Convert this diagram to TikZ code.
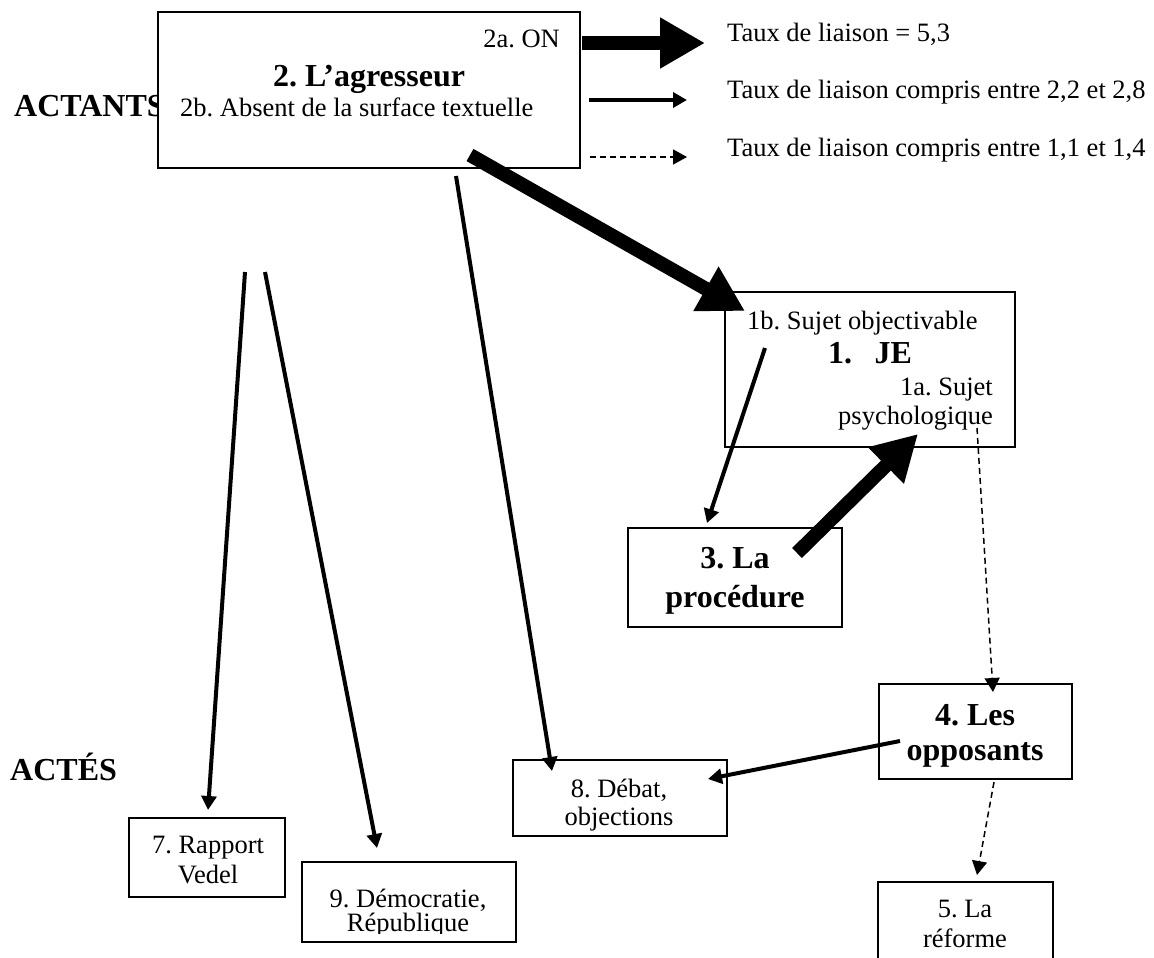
\documentclass[tikz,border=0pt]{standalone}
\usepackage{fontspec}
\setmainfont{Liberation Serif}
\usetikzlibrary{arrows.meta}
\frenchspacing
\begin{document}
\begin{tikzpicture}[x=1pt,y=-1pt,
  box/.style={draw, line width=1.6pt, fill=white, inner sep=0pt, rectangle},
  reg/.style={font=\fontsize{26.5}{30}\selectfont, inner sep=0pt},
  bld/.style={font=\fontsize{32}{36}\selectfont\bfseries, inner sep=0pt},
  med/.style={line width=4pt, -{Triangle[length=14pt,width=15pt]}},
  heavy/.style={line width=14pt, -{Triangle[length=45pt,width=48pt]}},
  dsh/.style={line width=1.5pt, dash pattern=on 6pt off 4pt, -{Triangle[length=14pt,width=15pt]}}
]
\useasboundingbox (0,0) rectangle (1154,958);

% side labels
\node[bld, anchor=base west] (actants) at (14,117) {ACTANTS};
\node[bld, anchor=base west] (actes) at (10,780) {ACTÉS};

% boxes
\node[box, minimum width=422pt, minimum height=156pt] (agr) at (369,90) {};
\node[box, minimum width=290pt, minimum height=155pt] (je) at (870,369.5) {};
\node[box, minimum width=214pt, minimum height=99pt] (proc) at (735,577.5) {};
\node[box, minimum width=193pt, minimum height=95pt] (opp) at (975.5,731.5) {};
\node[box, minimum width=214pt, minimum height=76pt] (deb) at (620,798) {};
\node[box, minimum width=156pt, minimum height=79pt] (rap) at (207,857.5) {};
\node[box, minimum width=214pt, minimum height=80pt] (dem) at (409,902) {};
\node[box, minimum width=175pt, minimum height=100pt] (ref) at (965.5,932) {};

% texts in agresseur box
\node[reg, anchor=base east] (t2a) at (560,48) {2a. ON};
\node[bld, anchor=base] (t2) at (369,86) {2. L’agresseur};
\node[reg, anchor=base west] (t2b) at (180,116) {2b. Absent de la surface textuelle};

% legend
\node[reg, anchor=base west] (lg1) at (727,42) {Taux de liaison = 5,3};
\node[reg, anchor=base west] (lg2) at (727,99) {Taux de liaison compris entre 2,2 et 2,8};
\node[reg, anchor=base west] (lg3) at (727,156) {Taux de liaison compris entre 1,1 et 1,4};

% JE box texts
\node[reg, anchor=base west] (t1b) at (747,329) {1b. Sujet objectivable};
\node[bld, anchor=base west] (t1) at (828,363) {1.\hspace{0.7em}JE};
\node[reg, anchor=base east] (t1a) at (993,395) {1a. Sujet};
\node[reg, anchor=base east] (t1a2) at (993,424) {psychologique};

% procedure
\node[bld, anchor=base] (t3a) at (735,568) {3. La};
\node[bld, anchor=base] (t3b) at (735,607) {procédure};

% opposants
\node[bld, anchor=base] (t4a) at (975,725) {4. Les};
\node[bld, anchor=base] (t4b) at (975,760) {opposants};

% debat
\begin{scope}
\clip (513,760) rectangle (727,830);
\node[reg, anchor=base] (t8a) at (619,797) {8. Débat,};
\node[reg, anchor=base] (t8b) at (619,825) {objections};
\end{scope}

% rapport
\node[reg, anchor=base] (t7a) at (208,853) {7. Rapport};
\node[reg, anchor=base] (t7b) at (208,883) {Vedel};

% democratie
\begin{scope}
\clip (302,862) rectangle (516,933);
\node[reg, anchor=base] (t9a) at (408,907) {9. Démocratie,};
\node[reg, anchor=base] (t9b) at (408,931) {République};
\end{scope}

% reforme
\node[reg, anchor=base] (t5a) at (965,917) {5. La};
\node[reg, anchor=base] (t5b) at (965,947) {réforme};

% connector end points
\coordinate (l1s) at (582,43);  \coordinate (l1e) at (705,43);
\coordinate (l2s) at (589,100); \coordinate (l2e) at (687,100);
\coordinate (l3s) at (590,157); \coordinate (l3e) at (687,157);
\coordinate (agrA) at (470,155); \coordinate (jeIn) at (745,311);
\coordinate (agrB) at (456,176); \coordinate (debIn) at (552,771);
\coordinate (f1) at (245,272); \coordinate (rapIn) at (208,810);
\coordinate (f2) at (265,272); \coordinate (demIn) at (377,848);
\coordinate (jeA) at (765,348); \coordinate (procIn) at (707,523);
\coordinate (procA) at (797,553); \coordinate (jeB) at (918,434);
\coordinate (jeC) at (977,428); \coordinate (oppIn) at (993,692);
\coordinate (oppA) at (900,741); \coordinate (debR) at (708,779);
\coordinate (oppB) at (994,782); \coordinate (refIn) at (977,875);

% legend arrows
\draw[heavy] (l1s) -- (l1e);
\draw[med] (l2s) -- (l2e);
\draw[dsh] (l3s) -- (l3e);

% connectors
\draw[heavy] (agrA) -- (jeIn);
\draw[med] (agrB) -- (debIn);
\draw[med] (f1) -- (rapIn);
\draw[med] (f2) -- (demIn);
\draw[med] (jeA) -- (procIn);
\draw[heavy] (procA) -- (jeB);
\draw[dsh] (jeC) -- (oppIn);
\draw[med] (oppA) -- (debR);
\draw[dsh] (oppB) -- (refIn);
\end{tikzpicture}
\end{document}
